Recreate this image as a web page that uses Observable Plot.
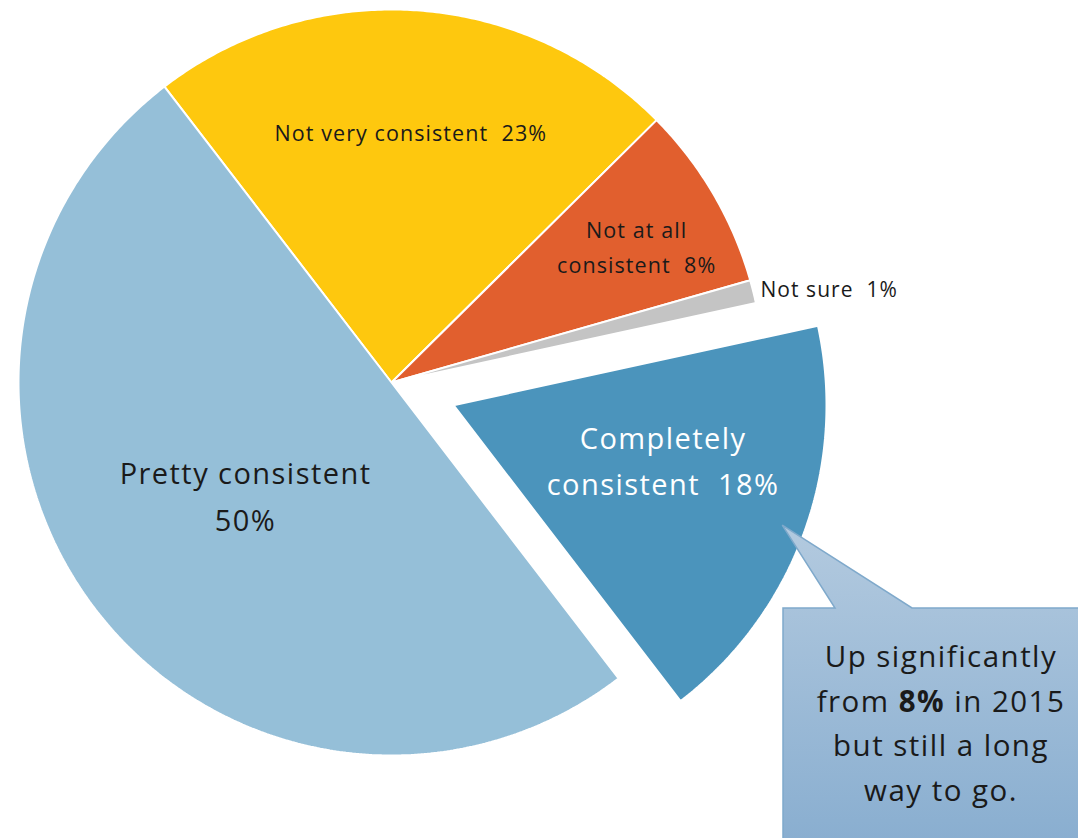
<!DOCTYPE html>
<html><head><meta charset="utf-8">
<script src="https://cdn.jsdelivr.net/npm/d3@7"></script>
<script src="https://cdn.jsdelivr.net/npm/@observablehq/plot@0.6"></script>
<style>body{margin:0;background:#fff;overflow:hidden} svg text{letter-spacing:0.05em}</style>
</head><body><div id="chart"></div>
<script>
// ---- data ----
const categories = ["Not very consistent", "Not at all consistent", "Not sure", "Completely consistent", "Pretty consistent"];
const values = [23, 8, 1, 18, 50];
const colors = ["#FEC80E", "#E15F2E", "#C4C4C4", "#4B94BC", "#95BFD8"];
const labelTexts = ["Not very consistent\u00a0\u00a023%", "Not at all\nconsistent\u00a0\u00a08%", "Not sure\u00a0\u00a01%", "Completely\nconsistent\u00a0\u00a018%", "Pretty consistent\n50%"];
const explodedCategory = "Completely consistent";
const calloutLines = [["Up significantly"], ["from ", "8%", " in 2015"], ["but still a long"], ["way to go."]];

// ---- layout ----
const W = 1078, H = 838;
const CX = 391, CY = 382, R = 373;     // pixel centre/radius of the pie
const startDeg = -37.5;
const explode = 0.177;
const labelR = [0.675, 0.75, 1.02, 0.585, 0.50];
const labelShift = [0.5, 1.5, 0, -4, -1];
const labelDy = [-1, -3, -4, -8, -6];
const labelSize = [21.5, 21.5, 21, 29, 29];
const labelLH = [1.6, 1.62, 1.6, 1.59, 1.62];
const labelFill = ["#1a1a1a", "#1a1a1a", "#1a1a1a", "#ffffff", "#1a1a1a"];
const labelAnchor = ["middle", "middle", "start", "middle", "middle"];
const fontStack = "'Open Sans', Lato, sans-serif";

const rad = d => d * Math.PI / 180;
const total = d3.sum(values);
let acc = startDeg;
const slices = categories.map((c, i) => {
  const a0 = acc, a1 = acc + values[i] / total * 360; acc = a1;
  const mid = (a0 + a1) / 2;
  const e = c === explodedCategory ? explode : 0;
  return {category: c, value: values[i], a0, a1, mid, cx: e * Math.sin(rad(mid)), cy: e * Math.cos(rad(mid))};
});
const polys = [];
for (const s of slices) {
  polys.push({category: s.category, x: s.cx, y: s.cy});
  const n = Math.max(4, Math.ceil((s.a1 - s.a0) / 0.5));
  for (let k = 0; k <= n; k++) {
    const a = rad(s.a0 + (s.a1 - s.a0) * k / n);
    polys.push({category: s.category, x: s.cx + Math.sin(a), y: s.cy + Math.cos(a)});
  }
}
const labels = slices.map((s, i) => {
  const a = rad(s.mid + labelShift[i]);
  return {text: labelTexts[i], x: s.cx + labelR[i] * Math.sin(a), y: s.cy + labelR[i] * Math.cos(a), i};
});

const xDomain = [(0 - CX) / R, (W - CX) / R];
const yDomain = [-(H - CY) / R, CY / R];

const ex = slices.find(s => s.category === explodedCategory);
const tipData = [{x: ex.cx + 0.94 * Math.sin(rad(ex.mid)), y: ex.cy + 0.94 * Math.cos(rad(ex.mid))}];

function calloutMark(index, scales) {
  const tx = scales.x(tipData[0].x), ty = scales.y(tipData[0].y);
  const left = 783, top = 608, bx0 = 835, bx1 = 912;
  const ns = "http://www.w3.org/2000/svg";
  const g = document.createElementNS(ns, "g");
  g.innerHTML = `
   <defs><linearGradient id="cg" x1="0" y1="0" x2="0" y2="1">
     <stop offset="0" stop-color="#B3CADF"/><stop offset="1" stop-color="#89AED0"/></linearGradient></defs>
   <path d="M${left},${top} L${bx0},${top} L${tx},${ty} L${bx1},${top} L${W + 5},${top} L${W + 5},${H + 5} L${left},${H + 5} Z"
     fill="url(#cg)" stroke="#7FA9CB" stroke-width="1.5"/>`;
  const text = document.createElementNS(ns, "text");
  text.setAttribute("text-anchor", "middle");
  text.setAttribute("font-size", "29.5");
  text.setAttribute("fill", "#1a1a1a");
  calloutLines.forEach((parts, li) => {
    parts.forEach((p, pi) => {
      const t = document.createElementNS(ns, "tspan");
      if (pi === 0) { t.setAttribute("x", 941); t.setAttribute("y", 667 + li * 44.5); }
      if (p === "8%") t.setAttribute("font-weight", "bold");
      t.textContent = p.replace(/ /g, "\u00a0");
      text.appendChild(t);
    });
  });
  g.appendChild(text);
  return g;
}

const marks = [
  Plot.line(polys, {x: "x", y: "y", z: "category", fill: "category", stroke: "#ffffff", strokeWidth: 2, curve: "linear-closed", strokeLinejoin: "miter"})
];
labels.forEach(l => {
  marks.push(Plot.text([l], {x: "x", y: "y", text: "text", dy: labelDy[l.i], fontSize: labelSize[l.i], lineHeight: labelLH[l.i], fill: labelFill[l.i], textAnchor: labelAnchor[l.i]}));
});
marks.push(calloutMark);

const chart = Plot.plot({
  width: W, height: H,
  margin: 0,
  x: {domain: xDomain, axis: null},
  y: {domain: yDomain, axis: null},
  color: {domain: categories, range: colors},
  style: {fontFamily: fontStack, background: "#fff", overflow: "hidden"},
  marks
});
document.getElementById("chart").appendChild(chart);
</script>
</body></html>
